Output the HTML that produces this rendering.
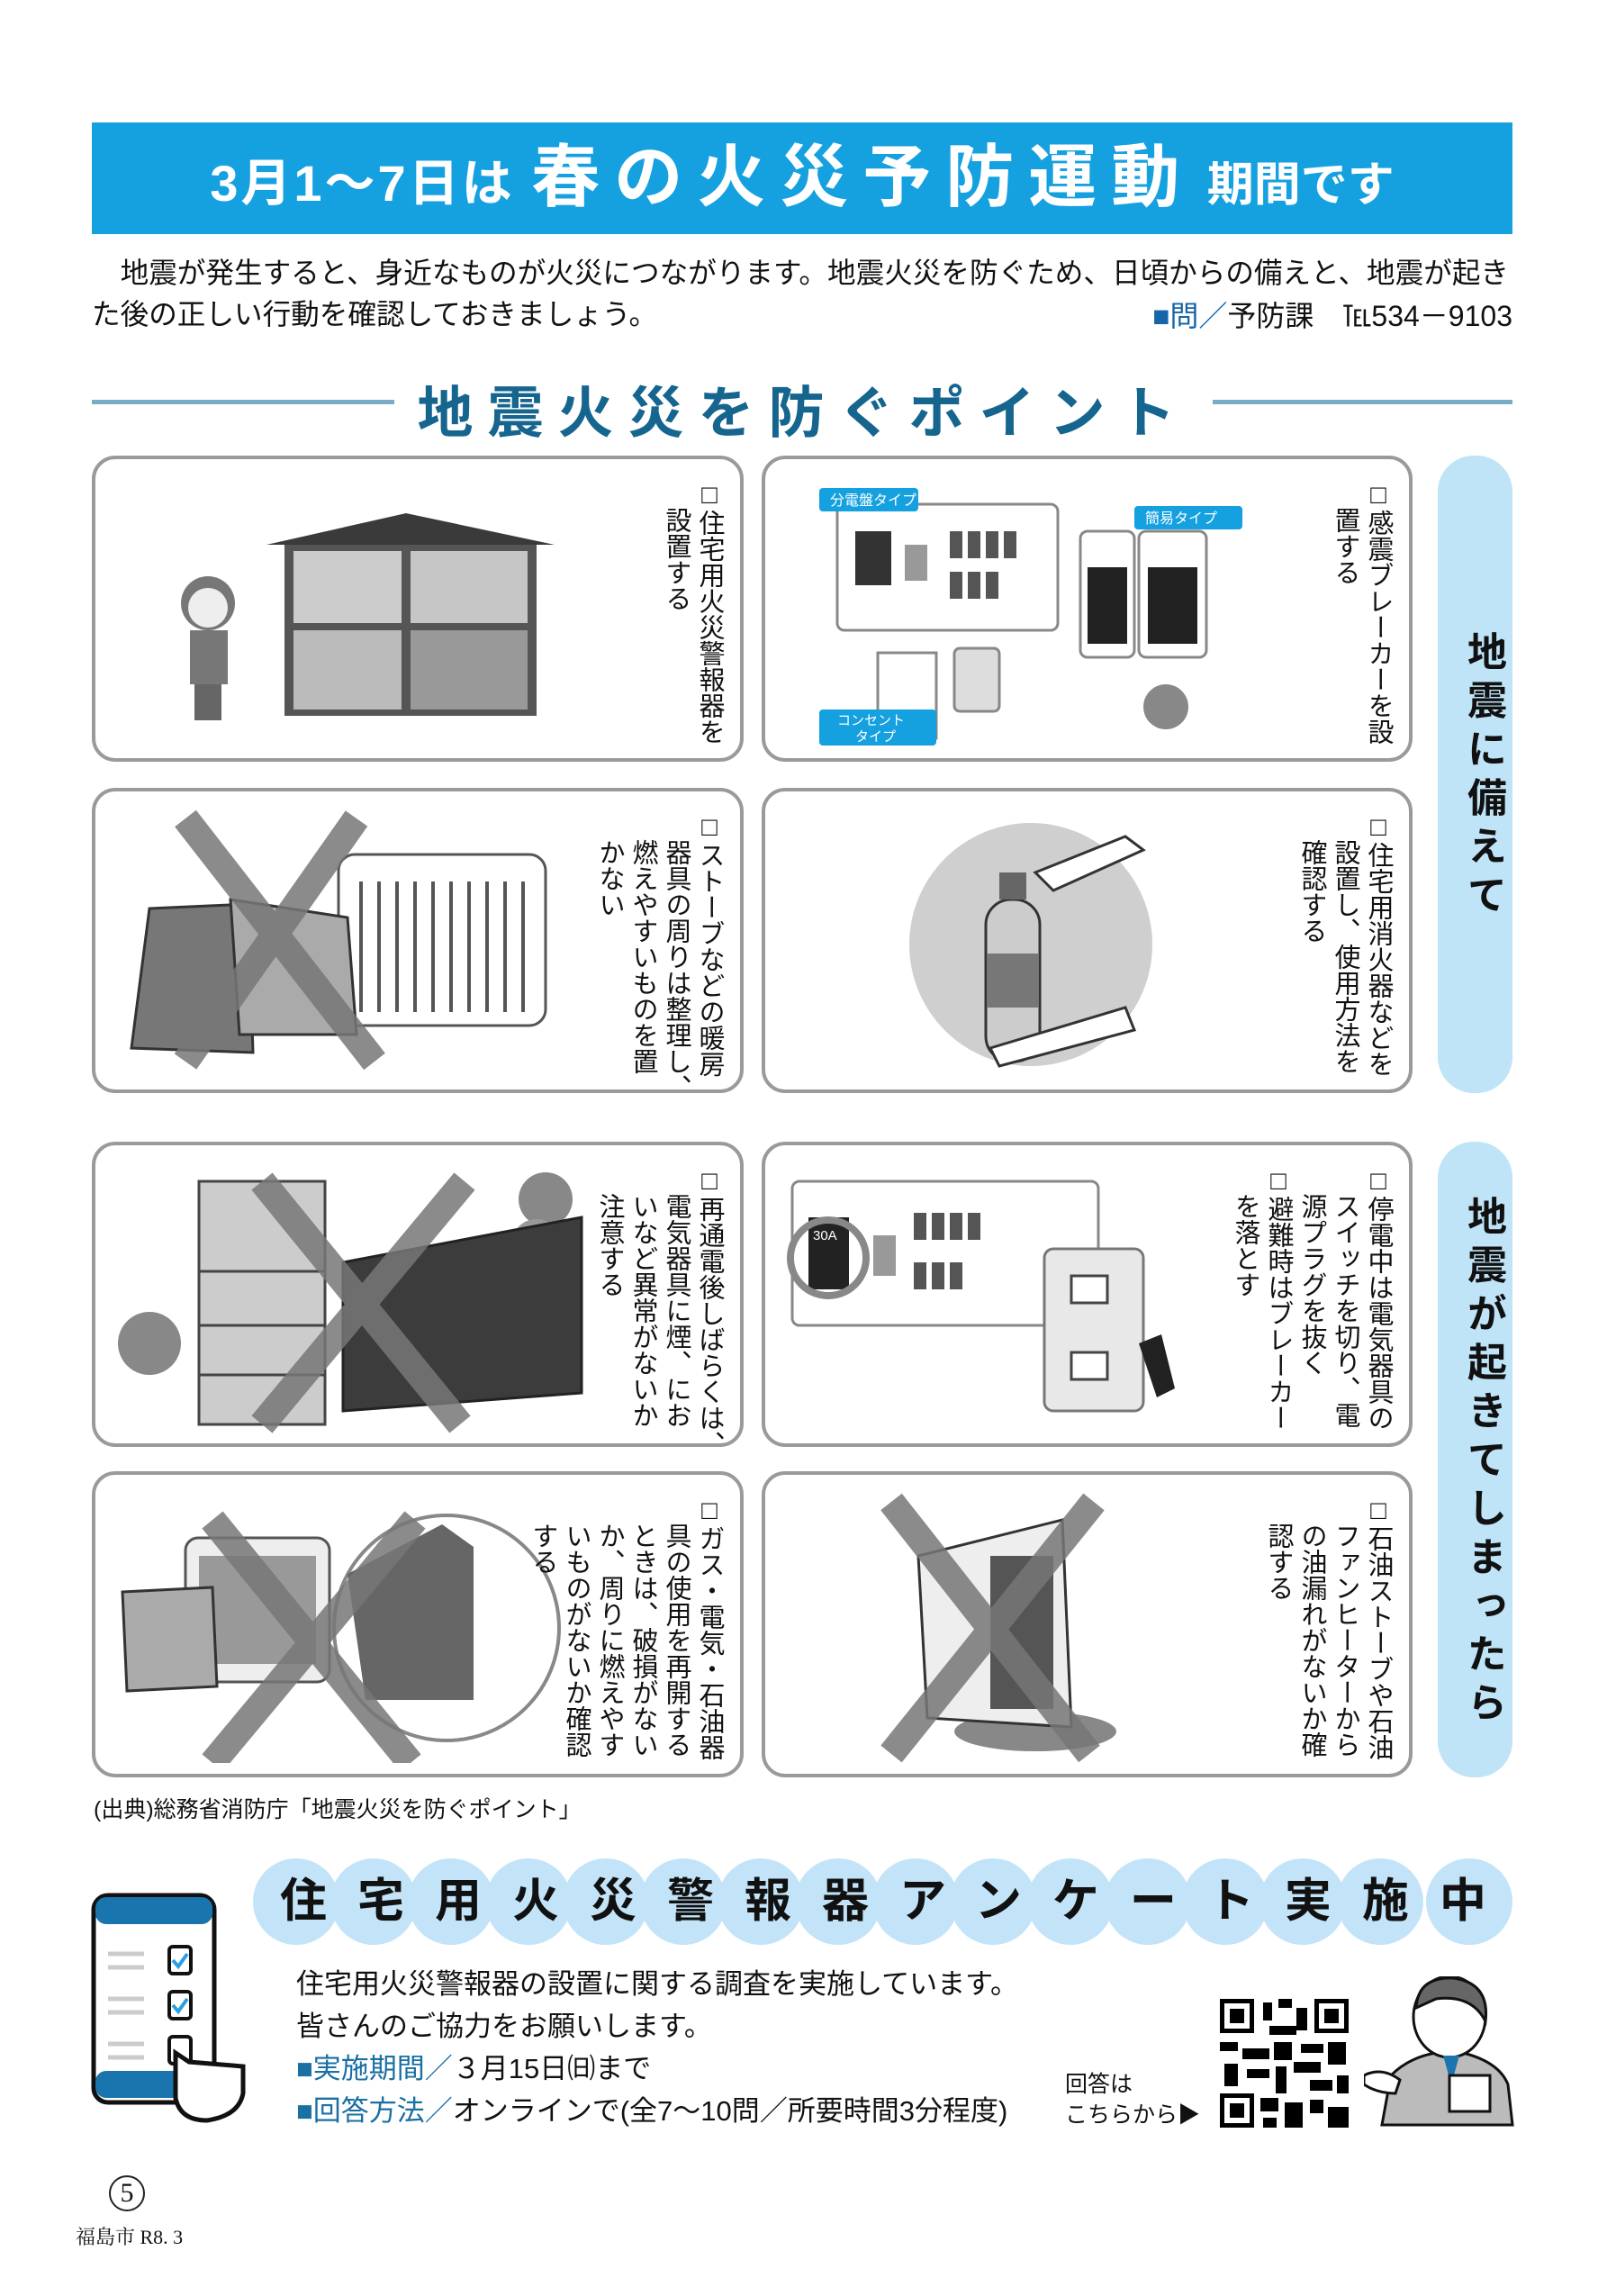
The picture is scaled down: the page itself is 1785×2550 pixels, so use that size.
<!DOCTYPE html>
<html><head><meta charset="utf-8">
<style>
*{margin:0;padding:0;box-sizing:border-box}
body{width:1785px;height:2550px;background:#fff;position:relative;overflow:hidden;font-family:"Liberation Sans","Noto Sans CJK JP",sans-serif;color:#111}
.abs{position:absolute}
.card{position:absolute;border:4px solid #9a9a9a;border-radius:26px;background:#fff;overflow:hidden}
.vt{position:absolute;writing-mode:vertical-rl;font-size:29px;line-height:37px;white-space:nowrap;color:#111}
.tab{position:absolute;left:1597px;width:83px;background:#bfe3f7;border-radius:40px}
.tab div{writing-mode:vertical-rl;font-weight:bold;font-size:44px;letter-spacing:10px;position:absolute;left:18px;top:40px;color:#111}
.circ{position:absolute;top:2064px;width:96px;height:96px;border-radius:50%;background:#c3e4f8}
</style></head><body>

<div class="abs" style="left:102px;top:136px;width:1578px;height:124px;background:#15a0e0"></div>
<div class="abs" style="left:102px;top:136px;width:1578px;height:124px;text-align:center;color:#fff;font-weight:bold;line-height:124px;white-space:nowrap">
<span style="font-size:56px;letter-spacing:3px">3月1～7日は </span><span style="font-size:76px;letter-spacing:16px">春の火災予防運動</span><span style="font-size:52px"> 期間です</span></div>

<div class="abs" style="left:102px;top:280px;font-size:31.6px;line-height:46px;white-space:nowrap">　地震が発生すると、身近なものが火災につながります。地震火災を防ぐため、日頃からの備えと、地震が起き<br>た後の正しい行動を確認しておきましょう。</div>
<div class="abs" style="right:105px;top:326px;font-size:32px;white-space:nowrap"><span style="color:#1565a8">■問／</span>予防課　℡534－9103</div>

<div class="abs" style="left:102px;top:444px;width:336px;height:5px;background:#78acc6"></div>
<div class="abs" style="left:1347px;top:444px;width:333px;height:5px;background:#78acc6"></div>
<div class="abs" style="left:440px;top:408px;width:905px;text-align:center;font-size:62px;font-weight:bold;letter-spacing:16px;color:#16658f;white-space:nowrap">地震火災を防ぐポイント</div>

<!-- Row 1 -->
<div class="card" style="left:102px;top:506px;width:724px;height:340px">
<svg class="abs" style="left:60px;top:40px" width="560" height="260">
<polygon points="130,55 285,20 450,55" fill="#3a3a3a"/>
<rect x="150" y="55" width="280" height="190" fill="#555"/>
<rect x="160" y="62" width="120" height="80" fill="#ccc"/><rect x="290" y="62" width="130" height="80" fill="#c6c6c6"/>
<rect x="160" y="150" width="120" height="88" fill="#bbb"/><rect x="290" y="150" width="130" height="88" fill="#999"/>
<circle cx="65" cy="120" r="30" fill="#777"/><circle cx="65" cy="125" r="22" fill="#eee"/>
<rect x="45" y="150" width="42" height="60" fill="#777"/><rect x="50" y="210" width="30" height="40" fill="#666"/>
</svg>
<div class="vt" style="right:16px;top:24px">□住宅用火災警報器を<br>　設置する</div>
</div>
<div class="card" style="left:846px;top:506px;width:723px;height:340px">
<svg class="abs" style="left:50px;top:20px" width="560" height="300">
<rect x="30" y="30" width="245" height="140" rx="8" fill="#fff" stroke="#888" stroke-width="3"/>
<rect x="50" y="60" width="40" height="60" fill="#333"/><rect x="105" y="75" width="25" height="40" fill="#999"/>
<g fill="#555"><rect x="155" y="60" width="14" height="30"/><rect x="175" y="60" width="14" height="30"/><rect x="195" y="60" width="14" height="30"/><rect x="215" y="60" width="14" height="30"/><rect x="155" y="105" width="14" height="30"/><rect x="175" y="105" width="14" height="30"/><rect x="195" y="105" width="14" height="30"/></g>
<rect x="10" y="12" width="110" height="26" rx="4" fill="#15a0e0"/><text x="22" y="31" font-size="16" fill="#fff">分電盤タイプ</text>
<rect x="75" y="195" width="65" height="95" fill="#fff" stroke="#888" stroke-width="3"/>
<rect x="160" y="190" width="50" height="70" rx="6" fill="#ddd" stroke="#888" stroke-width="3"/>
<rect x="10" y="258" width="130" height="40" rx="4" fill="#15a0e0"/><text x="30" y="275" font-size="15" fill="#fff">コンセント</text><text x="50" y="293" font-size="15" fill="#fff">タイプ</text>
<rect x="300" y="60" width="60" height="140" rx="8" fill="#fff" stroke="#888" stroke-width="3"/><rect x="308" y="100" width="44" height="85" fill="#222"/>
<rect x="365" y="60" width="75" height="140" rx="8" fill="#fff" stroke="#888" stroke-width="3"/><rect x="375" y="100" width="55" height="85" fill="#222"/>
<rect x="360" y="32" width="120" height="26" rx="4" fill="#15a0e0"/><text x="372" y="51" font-size="16" fill="#fff">簡易タイプ</text>
<circle cx="395" cy="255" r="25" fill="#888"/>
</svg>
<div class="vt" style="right:16px;top:24px">□感震ブレーカーを設<br>　置する</div>
</div>

<!-- Row 2 -->
<div class="card" style="left:102px;top:875px;width:724px;height:339px">
<svg class="abs" style="left:20px;top:20px" width="560" height="300">
<rect x="250" y="50" width="230" height="190" rx="18" fill="#fff" stroke="#555" stroke-width="3"/>
<g stroke="#555" stroke-width="4"><line x1="275" y1="80" x2="275" y2="225"/><line x1="295" y1="80" x2="295" y2="225"/><line x1="315" y1="80" x2="315" y2="225"/><line x1="335" y1="80" x2="335" y2="225"/><line x1="355" y1="80" x2="355" y2="225"/><line x1="375" y1="80" x2="375" y2="225"/><line x1="395" y1="80" x2="395" y2="225"/><line x1="415" y1="80" x2="415" y2="225"/><line x1="435" y1="80" x2="435" y2="225"/><line x1="455" y1="80" x2="455" y2="225"/></g>
<path d="M40,110 L150,105 L155,270 L20,265 Z" fill="#777" stroke="#333" stroke-width="3"/>
<path d="M130,100 L260,120 L270,250 L140,250 Z" fill="#aaa" stroke="#333" stroke-width="3"/>
<g stroke="#777" stroke-width="30" opacity="0.85"><line x1="80" y1="10" x2="290" y2="280"/><line x1="270" y1="10" x2="80" y2="280"/></g>
</svg>
<div class="vt" style="right:16px;top:24px">□ストーブなどの暖房<br>　器具の周りは整理し、<br>　燃えやすいものを置<br>　かない</div>
</div>
<div class="card" style="left:846px;top:875px;width:723px;height:339px">
<svg class="abs" style="left:100px;top:20px" width="400" height="300">
<circle cx="195" cy="150" r="135" fill="#cfcfcf"/>
<rect x="145" y="100" width="60" height="180" rx="28" fill="#ccc" stroke="#333" stroke-width="3"/>
<rect x="146" y="160" width="58" height="60" fill="#777"/>
<rect x="160" y="70" width="30" height="30" fill="#666"/>
<path d="M200,70 L300,30 L320,45 L220,90 Z" fill="#fff" stroke="#333" stroke-width="3"/>
<path d="M150,265 L300,220 L310,245 L160,285 Z" fill="#fff" stroke="#333" stroke-width="3"/>
</svg>
<div class="vt" style="right:16px;top:24px">□住宅用消火器などを<br>　設置し、使用方法を<br>　確認する</div>
</div>

<div class="tab" style="top:506px;height:708px"><div style="top:195px">地震に備えて</div></div>

<!-- Row 3 -->
<div class="card" style="left:102px;top:1268px;width:724px;height:339px">
<svg class="abs" style="left:20px;top:20px" width="560" height="300">
<circle cx="40" cy="200" r="35" fill="#888"/><circle cx="480" cy="40" r="30" fill="#888"/><circle cx="470" cy="90" r="28" fill="#999"/>
<rect x="95" y="20" width="140" height="270" fill="#ccc" stroke="#444" stroke-width="3"/>
<line x1="95" y1="120" x2="235" y2="120" stroke="#444" stroke-width="3"/><line x1="95" y1="180" x2="235" y2="180" stroke="#444" stroke-width="3"/><line x1="95" y1="235" x2="235" y2="235" stroke="#444" stroke-width="3"/>
<path d="M255,110 L520,60 L520,255 L255,275 Z" fill="#3c3c3c" stroke="#222" stroke-width="3"/>
<g stroke="#777" stroke-width="30" opacity="0.85"><line x1="165" y1="20" x2="385" y2="290"/><line x1="390" y1="20" x2="165" y2="290"/></g>
</svg>
<div class="vt" style="right:16px;top:24px">□再通電後しばらくは、<br>　電気器具に煙、にお<br>　いなど異常がないか<br>　注意する</div>
</div>
<div class="card" style="left:846px;top:1268px;width:723px;height:339px">
<svg class="abs" style="left:20px;top:30px" width="520" height="290">
<rect x="10" y="10" width="340" height="160" rx="8" fill="#fff" stroke="#888" stroke-width="3"/>
<rect x="28" y="50" width="45" height="80" fill="#222"/><text x="33" y="75" font-size="15" fill="#fff">30A</text>
<circle cx="50" cy="95" r="42" fill="none" stroke="#888" stroke-width="8"/>
<rect x="100" y="70" width="25" height="45" fill="#999"/>
<g fill="#555"><rect x="145" y="45" width="14" height="30"/><rect x="165" y="45" width="14" height="30"/><rect x="185" y="45" width="14" height="30"/><rect x="205" y="45" width="14" height="30"/><rect x="145" y="100" width="14" height="30"/><rect x="165" y="100" width="14" height="30"/><rect x="185" y="100" width="14" height="30"/></g>
<rect x="290" y="85" width="110" height="180" rx="10" fill="#e8e8e8" stroke="#777" stroke-width="3"/>
<rect x="320" y="115" width="40" height="30" fill="#fff" stroke="#444" stroke-width="3"/><rect x="320" y="200" width="40" height="30" fill="#fff" stroke="#444" stroke-width="3"/>
<path d="M395,190 L420,180 L435,240 L415,250 Z" fill="#222"/>
</svg>
<div class="vt" style="right:16px;top:24px">□停電中は電気器具の<br>　スイッチを切り、電<br>　源プラグを抜く<br>□避難時はブレーカー<br>　を落とす</div>
</div>

<!-- Row 4 -->
<div class="card" style="left:102px;top:1634px;width:724px;height:340px">
<svg class="abs" style="left:20px;top:20px" width="560" height="300">
<rect x="80" y="50" width="160" height="160" rx="14" fill="#eee" stroke="#555" stroke-width="3"/>
<rect x="95" y="70" width="130" height="120" fill="#999"/>
<path d="M10,110 L110,105 L115,215 L15,220 Z" fill="#aaa" stroke="#333" stroke-width="3"/>
<circle cx="370" cy="150" r="125" fill="#fff" stroke="#888" stroke-width="4"/>
<path d="M260,90 L365,35 L400,60 L400,230 L280,230 Z" fill="#666"/>
<g stroke="#777" stroke-width="30" opacity="0.85"><line x1="110" y1="30" x2="330" y2="300"/><line x1="335" y1="30" x2="110" y2="300"/></g>
</svg>
<div class="vt" style="right:16px;top:24px">□ガス・電気・石油器<br>　具の使用を再開する<br>　ときは、破損がない<br>　か、周りに燃えやす<br>　いものがないか確認<br>　する</div>
</div>
<div class="card" style="left:846px;top:1634px;width:723px;height:340px">
<svg class="abs" style="left:100px;top:20px" width="400" height="300">
<ellipse cx="200" cy="265" rx="90" ry="22" fill="#888"/>
<path d="M70,70 L230,30 L240,260 L80,250 Z" fill="#eee" stroke="#333" stroke-width="3"/>
<rect x="150" y="70" width="70" height="170" fill="#555"/>
<g stroke="#777" stroke-width="30" opacity="0.85"><line x1="40" y1="10" x2="260" y2="290"/><line x1="265" y1="10" x2="40" y2="290"/></g>
</svg>
<div class="vt" style="right:16px;top:24px">□石油ストーブや石油<br>　ファンヒーターから<br>　の油漏れがないか確<br>　認する</div>
</div>

<div class="tab" style="top:1268px;height:706px"><div style="top:60px">地震が起きてしまったら</div></div>

<div class="abs" style="left:104px;top:1990px;font-size:25px;white-space:nowrap">(出典)総務省消防庁「地震火災を防ぐポイント」</div>

<!-- banner circles -->
<div class="circ" style="left:281px"></div><div class="circ" style="left:367px"></div><div class="circ" style="left:453px"></div><div class="circ" style="left:539px"></div><div class="circ" style="left:625px"></div><div class="circ" style="left:711px"></div><div class="circ" style="left:797px"></div><div class="circ" style="left:883px"></div><div class="circ" style="left:969px"></div><div class="circ" style="left:1055px"></div><div class="circ" style="left:1141px"></div><div class="circ" style="left:1227px"></div><div class="circ" style="left:1313px"></div><div class="circ" style="left:1399px"></div><div class="circ" style="left:1485px"></div><div class="circ" style="left:1584px"></div>
<div class="abs" style="left:281px;top:2064px;width:1399px;height:96px;line-height:96px;text-align:center;font-size:52px;font-weight:bold;letter-spacing:34px;padding-left:30px;white-space:nowrap">住宅用火災警報器アンケート実施中</div>

<!-- phone icon -->
<svg class="abs" style="left:100px;top:2100px" width="180" height="260">
<rect x="4" y="5" width="134" height="230" rx="16" fill="#fff" stroke="#111" stroke-width="5"/>
<rect x="6" y="7" width="130" height="30" rx="12" fill="#1a74ad"/>
<rect x="6" y="200" width="130" height="30" rx="12" fill="#1a74ad"/>
<g stroke="#ccc" stroke-width="5"><line x1="20" y1="70" x2="60" y2="70"/><line x1="20" y1="85" x2="60" y2="85"/><line x1="20" y1="120" x2="60" y2="120"/><line x1="20" y1="135" x2="60" y2="135"/><line x1="20" y1="170" x2="60" y2="170"/><line x1="20" y1="185" x2="60" y2="185"/></g>
<rect x="88" y="62" width="24" height="30" rx="4" fill="#fff" stroke="#111" stroke-width="4"/><rect x="88" y="112" width="24" height="30" rx="4" fill="#fff" stroke="#111" stroke-width="4"/><rect x="88" y="162" width="24" height="30" rx="4" fill="#fff" stroke="#111" stroke-width="4"/>
<path d="M92,77 l6,7 l10,-14 M92,127 l6,7 l10,-14" stroke="#2aa0e0" stroke-width="4" fill="none"/>
<path d="M95,180 L95,230 Q100,255 130,255 Q165,250 170,225 L170,195 L110,190 Z" fill="#fff" stroke="#111" stroke-width="5"/>
</svg>

<div class="abs" style="left:329px;top:2180px;font-size:31px;line-height:47px;white-space:nowrap">住宅用火災警報器の設置に関する調査を実施しています。<br>皆さんのご協力をお願いします。<br><span style="color:#1a6fa3">■実施期間／</span>３月15日㈰まで<br><span style="color:#1a6fa3">■回答方法／</span>オンラインで(全7～10問／所要時間3分程度)</div>
<div class="abs" style="left:1183px;top:2298px;font-size:25px;line-height:34px;white-space:nowrap">回答は<br>こちらから▶</div>

<svg class="abs" style="left:1355px;top:2220px" width="143" height="143">
<rect width="143" height="143" fill="#fff"/>
<g fill="#000">
<rect x="0" y="0" width="38" height="38"/><rect x="105" y="0" width="38" height="38"/><rect x="0" y="105" width="38" height="38"/>
<rect x="48" y="4" width="10" height="20"/><rect x="65" y="0" width="15" height="10"/><rect x="85" y="10" width="12" height="25"/><rect x="55" y="30" width="30" height="10"/>
<rect x="0" y="48" width="20" height="10"/><rect x="25" y="55" width="30" height="12"/><rect x="60" y="48" width="20" height="20"/><rect x="90" y="50" width="25" height="10"/><rect x="120" y="48" width="20" height="25"/>
<rect x="5" y="72" width="15" height="25"/><rect x="30" y="78" width="25" height="10"/><rect x="62" y="75" width="12" height="30"/><rect x="82" y="70" width="30" height="12"/><rect x="100" y="90" width="25" height="12"/><rect x="130" y="85" width="13" height="20"/>
<rect x="45" y="110" width="20" height="15"/><rect x="72" y="115" width="20" height="28"/><rect x="100" y="112" width="15" height="15"/><rect x="120" y="120" width="23" height="23"/><rect x="48" y="132" width="15" height="11"/>
</g>
<g fill="#fff"><rect x="5" y="5" width="28" height="28"/><rect x="110" y="5" width="28" height="28"/><rect x="5" y="110" width="28" height="28"/></g>
<g fill="#000"><rect x="11" y="11" width="16" height="16"/><rect x="116" y="11" width="16" height="16"/><rect x="11" y="116" width="16" height="16"/></g>
</svg>

<svg class="abs" style="left:1515px;top:2195px" width="170" height="170">
<path d="M20,165 L30,110 Q50,90 80,85 L110,85 Q150,95 160,120 L165,165 Z" fill="#bbb" stroke="#111" stroke-width="3"/>
<ellipse cx="95" cy="45" rx="40" ry="45" fill="#fff" stroke="#111" stroke-width="3"/>
<path d="M58,35 Q60,0 100,2 Q140,8 135,50 Q120,20 80,25 Z" fill="#666" stroke="#111" stroke-width="3"/>
<path d="M88,88 L97,120 L106,88 Z" fill="#1a74ad"/>
<rect x="95" y="110" width="45" height="40" fill="#fff" stroke="#111" stroke-width="3"/>
<path d="M0,110 Q20,100 40,115 L35,130 Q15,130 0,120 Z" fill="#fff" stroke="#111" stroke-width="3"/>
</svg>

<div class="abs" style="left:121px;top:2416px;width:40px;height:40px;border:2px solid #222;border-radius:50%;text-align:center;font-family:'Liberation Serif',serif;font-size:30px;line-height:36px">5</div>
<div class="abs" style="left:84px;top:2468px;font-family:'Liberation Serif','Noto Serif CJK SC',serif;font-size:22px;white-space:nowrap">福島市 R8. 3</div>
</body></html>
